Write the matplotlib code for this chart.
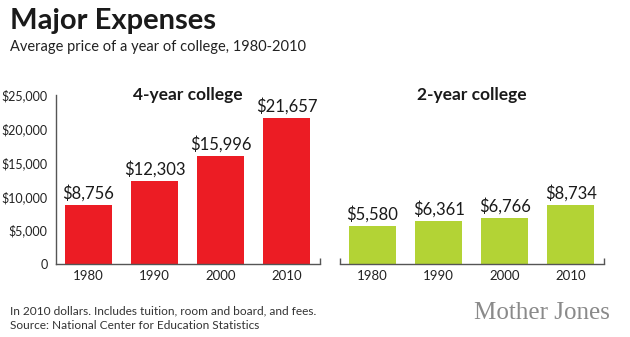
import matplotlib.pyplot as plt

years = ['1980', '1990', '2000', '2010']
four_year = [8756, 12303, 15996, 21657]
two_year = [5580, 6361, 6766, 8734]
yticks = [0, 5000, 10000, 15000, 20000, 25000]
ytick_labels = ['0', '$5,000', '$10,000', '$15,000', '$20,000', '$25,000']

RED = '#ec1c24'
GREEN = '#b3d335'
AXIS = '#555555'
FONT = 'Lato'

fig = plt.figure(figsize=(6.3, 3.37), dpi=100)
fig.patch.set_facecolor('white')

fig.text(0.016, 0.938, 'Major Expenses', fontsize=21, fontweight='bold',
         family=FONT, color='#1a1a1a', va='center')
fig.text(0.016, 0.862, 'Average price of a year of college, 1980-2010',
         fontsize=10.5, family=FONT, color='#222222', va='center')


def panel(rect, values, color, title, show_y):
    ax = fig.add_axes(rect)
    x = list(range(len(values)))
    ax.bar(x, values, width=0.71, color=color)
    ax.set_xlim(-0.49, 3.5)
    ax.set_ylim(0, 25000)
    for s in ['top', 'right']:
        ax.spines[s].set_visible(False)
    ax.spines['bottom'].set_color(AXIS)
    ax.spines['bottom'].set_linewidth(1)
    if show_y:
        ax.spines['left'].set_color(AXIS)
        ax.spines['left'].set_linewidth(1)
        ax.set_yticks(yticks)
        ax.set_yticklabels(ytick_labels, family=FONT, fontsize=9, color='#222222')
        ax.tick_params(axis='y', length=0, pad=6)
        ax.set_xticks([3.5], minor=True)
    else:
        ax.spines['left'].set_visible(False)
        ax.set_yticks([])
        ax.set_xticks([-0.49, 3.5], minor=True)
    ax.tick_params(axis='x', which='minor', direction='in', length=4,
                   color=AXIS, width=1)
    ax.set_xticks(x)
    ax.set_xticklabels(years, family=FONT, fontsize=9.5, color='#222222')
    ax.tick_params(axis='x', which='major', length=0, pad=4)
    for xi, v in zip(x, values):
        ax.text(xi, v + 500, '${:,}'.format(v), ha='center', va='bottom',
                family=FONT, fontsize=12, color='#1a1a1a')
    ax.text(1.5, 25000, title, ha='center', va='center', family=FONT,
            fontsize=12.5, fontweight='bold', color='#1a1a1a')
    return ax


panel([0.0889, 0.2166, 0.4190, 0.5015], four_year, RED, '4-year college', True)
panel([0.5397, 0.2166, 0.4190, 0.5015], two_year, GREEN, '2-year college', False)

fig.text(0.016, 0.078, 'In 2010 dollars. Includes tuition, room and board, and fees.',
         fontsize=8.6, family=FONT, color='#333333', va='center')
fig.text(0.016, 0.034, 'Source: National Center for Education Statistics',
         fontsize=8.6, family=FONT, color='#333333', va='center')
fig.text(0.968, 0.072, 'Mother Jones', fontsize=18, family='Liberation Serif',
         color='#8a8a8a', ha='right', va='center')

fig.savefig('out.png', dpi=100, facecolor='white')
